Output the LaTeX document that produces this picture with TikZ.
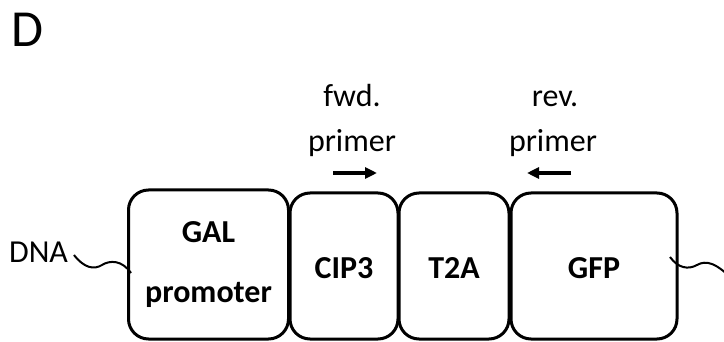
\documentclass[tikz,border=0pt]{standalone}
\usepackage{fontspec}
\setmainfont{Carlito}
\usetikzlibrary{arrows.meta}
\begin{document}
\begin{tikzpicture}[x=1pt,y=-1pt,
  partbox/.style={draw,line width=3pt,rounded corners=20pt,inner sep=0pt,
    font=\bfseries\fontsize{32}{60}\selectfont,align=center},
  lbl/.style={inner sep=0pt,anchor=base,font=\fontsize{32}{37}\selectfont},
  primerarrow/.style={line width=3.5pt,-{Triangle[length=12pt,width=11pt]}},
  dnaline/.style={line width=2pt}]
\clip (0,0) rectangle (724,342);
\node[inner sep=0pt,anchor=base west,font=\fontsize{52}{60}\selectfont] (title) at (11,47) {D};
\node[partbox,minimum width=160pt,minimum height=149pt] (gal) at (208.5,264.5) {GAL\\promoter};
\node[partbox,minimum width=108pt,minimum height=146pt,text height=26pt,text depth=0pt] (cip) at (344,266) {CIP3};
\node[partbox,minimum width=110pt,minimum height=146pt,text height=26pt,text depth=0pt] (t2a) at (454,266) {T2A};
\node[partbox,minimum width=166pt,minimum height=146pt,text height=26pt,text depth=0pt] (gfp) at (594,266) {GFP};
\node[lbl] (fwd) at (352,107) {fwd.};
\node[lbl] (fwdp) at (352,152) {primer};
\node[lbl] (rev) at (555,107) {rev.};
\node[lbl] (revp) at (553,152) {primer};
\node[lbl] (dna) at (38.5,262) {DNA};
\coordinate (f1) at (333,173);
\coordinate (f2) at (377,173);
\coordinate (r1) at (571,173);
\coordinate (r2) at (527,173);
\draw[primerarrow] (f1) -- (f2);
\draw[primerarrow] (r1) -- (r2);
\coordinate (wa) at (74,255);
\coordinate (wm) at (102,265);
\coordinate (wb) at (131,273);
\draw[dnaline] (wa) .. controls (84,268) and (94,270) .. (wm) .. controls (110,260) and (122,260) .. (wb);
\coordinate (va) at (670,257);
\coordinate (vm) at (697,265);
\coordinate (vb) at (735,282);
\draw[dnaline] (va) .. controls (678,268) and (688,270) .. (vm) .. controls (706,260) and (716,262) .. (vb);
\end{tikzpicture}
\end{document}
